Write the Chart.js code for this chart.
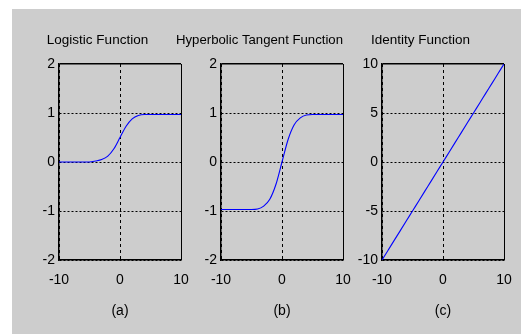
<!DOCTYPE html>
<html>
<head>
<meta charset="utf-8">
<script src="https://cdn.jsdelivr.net/npm/chart.js@4/dist/chart.umd.min.js"></script>
<style>
  html, body { margin: 0; padding: 0; background: #ffffff; width: 521px; height: 334px; overflow: hidden; position: relative; }
  #bg { position: absolute; left: 12px; top: 9px; width: 509px; height: 325px; background: #cdcdcd; }
  canvas { position: absolute; top: 0; }
</style>
</head>
<body>
<div id="bg"></div>
<canvas id="c1"></canvas>
<canvas id="c2"></canvas>
<canvas id="c3"></canvas>
<script>
// ---- data ----
const xValues = [-10, -9, -8, -7, -6, -5, -4, -3, -2, -1, 0, 1, 2, 3, 4, 5, 6, 7, 8, 9, 10];
const logisticValues = [0, 0, 0, 0, 0, 0, 0.02, 0.05, 0.12, 0.27, 0.5, 0.73, 0.88, 0.95, 0.97, 0.97, 0.97, 0.97, 0.97, 0.97, 0.97];
const tanhValues = [-0.97, -0.97, -0.97, -0.97, -0.97, -0.97, -0.96, -0.9, -0.76, -0.46, 0, 0.46, 0.76, 0.9, 0.96, 0.97, 0.97, 0.97, 0.97, 0.97, 0.97];
const identityValues = [-10, -9, -8, -7, -6, -5, -4, -3, -2, -1, 0, 1, 2, 3, 4, 5, 6, 7, 8, 9, 10];
const titles = ['Logistic Function', 'Hyperbolic Tangent Function', 'Identity Function'];
const subLabels = ['(a)', '(b)', '(c)'];
const xTicks = [-10, 0, 10];
const yRanges = [[-2, 2, 1], [-2, 2, 1], [-10, 10, 5]];

const FONT = "'Liberation Sans', Arial, sans-serif";
const panelLefts = [59, 221, 382];
const plotW = 122;
const side = 45;

function makePanel(id, idx, values) {
  const cv = document.getElementById(id);
  const w = plotW + 2 * side;
  cv.style.left = (panelLefts[idx] - side) + 'px';
  cv.style.width = w + 'px';
  cv.style.height = '334px';
  cv.width = w; cv.height = 334;
  const [ymin, ymax, ystep] = yRanges[idx];
  const pts = xValues.map((x, i) => ({x: x, y: values[i]}));
  new Chart(cv, {
    type: 'line',
    data: { datasets: [{
      data: pts,
      borderColor: '#0000ff',
      borderWidth: 1.1,
      pointRadius: 0,
      fill: false,
      cubicInterpolationMode: 'monotone'
    }]},
    options: {
      responsive: false,
      animation: false,
      events: [],
      layout: { padding: { top: 31.9, bottom: 4, left: 0, right: side } },
      plugins: {
        legend: { display: false },
        tooltip: { enabled: false },
        title: {
          display: true, text: titles[idx], color: '#000',
          font: { family: FONT, size: 13.5, weight: 'normal', lineHeight: 1.2 },
          padding: { top: 0, bottom: 15.9 }
        }
      },
      scales: {
        x: {
          type: 'linear', min: -10, max: 10,
          afterBuildTicks: s => { s.ticks = xTicks.map(v => ({value: v})); },
          ticks: { color: '#000', padding: 12, maxRotation: 0, autoSkip: false,
                   font: { family: FONT, size: 14, lineHeight: 1.2 } },
          grid: { color: '#000', lineWidth: 1, drawTicks: false },
          border: { display: true, color: '#000', width: 1.5,
                    dash: c => (c.tick && c.tick.value === 10) ? [] : [3, 3] },
          title: { display: true, text: subLabels[idx], color: '#000',
                   font: { family: FONT, size: 14, lineHeight: 1.2 },
                   padding: { top: 0, bottom: 10.6 } },
          afterFit: s => { s.height = 70; }
        },
        y: {
          type: 'linear', min: ymin, max: ymax,
          ticks: { stepSize: ystep, color: '#000', padding: 4,
                   font: { family: FONT, size: 14, lineHeight: 1.2 } },
          grid: { color: '#000', lineWidth: c => (c.tick && c.tick.value === ymax) ? 1.5 : 1, drawTicks: false },
          border: { display: true, color: '#000', width: 1.5,
                    dash: c => (c.tick && c.tick.value === ymax) ? [] : [2, 2] },
          afterFit: s => { s.width = side; }
        }
      }
    }
  });
}

makePanel('c1', 0, logisticValues);
makePanel('c2', 1, tanhValues);
makePanel('c3', 2, identityValues);
</script>
</body>
</html>
